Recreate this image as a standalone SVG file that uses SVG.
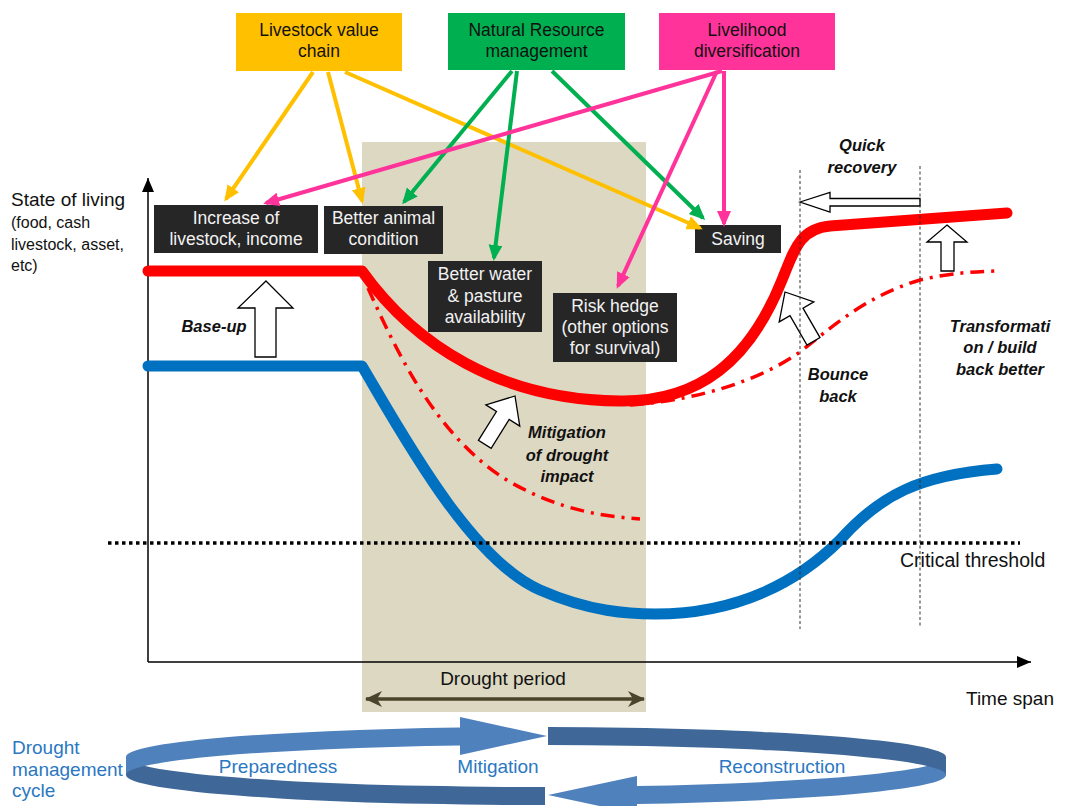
<svg xmlns="http://www.w3.org/2000/svg" width="1066" height="806" viewBox="0 0 1066 806">
<style>
.t{font-family:"Liberation Sans",Arial,sans-serif;}
.top{font-size:17.5px;fill:#111;text-anchor:middle;}
.dk{fill:#262626;}
.dt{font-size:17.5px;fill:#F2F2F2;text-anchor:middle;}
.bi{font-size:16.5px;font-weight:bold;font-style:italic;fill:#111;text-anchor:middle;}
.blk{fill:#fff;stroke:#000;stroke-width:1.3;stroke-linejoin:miter;}
.vd{stroke:#333;stroke-width:1;stroke-dasharray:3 2.5;fill:none;}
.cy{font-size:19px;fill:#2B78C2;}
</style>
<defs>
<marker id="my" markerUnits="userSpaceOnUse" markerWidth="18" markerHeight="16" refX="13" refY="7" orient="auto"><path d="M0,0 L16,7 L0,14 z" fill="#FFC000"/></marker>
<marker id="mg" markerUnits="userSpaceOnUse" markerWidth="18" markerHeight="16" refX="13" refY="7" orient="auto"><path d="M0,0 L16,7 L0,14 z" fill="#00B050"/></marker>
<marker id="mp" markerUnits="userSpaceOnUse" markerWidth="18" markerHeight="16" refX="13" refY="7" orient="auto"><path d="M0,0 L16,7 L0,14 z" fill="#FF3399"/></marker>
<marker id="mk" markerUnits="userSpaceOnUse" markerWidth="16" markerHeight="14" refX="14" refY="6" orient="auto"><path d="M0,0 L14,6 L0,12 z" fill="#000"/></marker>
<marker id="md" markerUnits="userSpaceOnUse" markerWidth="20" markerHeight="20" refX="16" refY="8" orient="auto-start-reverse"><path d="M0,0 L17,8 L0,16 L5,8 z" fill="#4A452A"/></marker>
</defs>

<rect id="drought-period" x="362" y="142" width="284" height="570" fill="#DDD8C2"/>

<g id="axes" stroke="#000" stroke-width="1.5" fill="none">
<line x1="148" y1="662" x2="148" y2="178" marker-end="url(#mk)"/>
<line x1="148" y1="662" x2="1031" y2="662" marker-end="url(#mk)"/>
</g>

<g id="curves" fill="none" stroke-linecap="round" stroke-linejoin="round">
<path d="M148,366 L362,366 C400,430 470,560 540,590 C590,612 630,614 655,614 C740,614 800,580 840,540 C880,495 920,475 997,469" stroke="#0070C0" stroke-width="11"/>
<path d="M368,288 C400,360 440,440 510,482 C560,510 600,516 640,519" stroke="#FF0000" stroke-width="3.5" stroke-linecap="butt" stroke-dasharray="14 7 3 7"/>
<path d="M630,405 C700,400 760,380 800,352 C840,320 870,295 920,280 C950,273 970,272 995,271" stroke="#FF0000" stroke-width="3.5" stroke-linecap="butt" stroke-dasharray="14 7 3 7"/>
<path d="M148,271 L362,271 C415,345 500,400 620,401 C700,402 750,360 782,280 C795,248 800,229 830,226 L1007,213" stroke="#FF0000" stroke-width="11"/>
</g>

<g id="threshold">
<line x1="108" y1="543" x2="1020" y2="543" stroke="#000" stroke-width="3.5" stroke-dasharray="3.5 3.5"/>
<text class="t" x="900" y="567" font-size="19.5" fill="#111">Critical threshold</text>
</g>

<g id="block-arrows">
<polygon class="blk" points="266,281 293,308 276,308 276,357 255,357 255,308 238,308"/>
<polygon class="blk" points="0,0 20,23 7.5,23 7.5,57 -7.5,57 -7.5,23 -20,23" transform="translate(515,396) rotate(32)"/>
<polygon class="blk" points="0,0 20,23 7.5,23 7.5,57 -7.5,57 -7.5,23 -20,23" transform="translate(785,292) rotate(-30)"/>
<polygon class="blk" points="947,225 967,242 954,242 954,271 941,271 941,242 927,242"/>
<polygon class="blk" points="800,202 830,192.5 830,198.5 920,198.5 920,206 830,206 830,212"/>
</g>

<g id="phase-lines">
<line class="vd" x1="800" y1="170" x2="800" y2="629"/>
<line class="vd" x1="920" y1="166" x2="920" y2="628"/>
</g>

<g id="labels" class="t">
<text class="bi" x="214" y="332">Base-up</text>
<text class="bi" x="567" y="438">Mitigation</text>
<text class="bi" x="567" y="461">of drought</text>
<text class="bi" x="567" y="482">impact</text>
<text class="bi" x="862" y="151">Quick</text>
<text class="bi" x="862" y="173">recovery</text>
<text class="bi" x="838" y="380">Bounce</text>
<text class="bi" x="838" y="402">back</text>
<text class="bi" x="1000" y="332">Transformati</text>
<text class="bi" x="1000" y="353">on / build</text>
<text class="bi" x="1000" y="375">back better</text>
<text x="11" y="206" font-size="19" fill="#111">State of living</text>
<text x="11" y="228" font-size="16" fill="#111">(food, cash</text>
<text x="11" y="250" font-size="16" fill="#111">livestock, asset,</text>
<text x="11" y="271" font-size="16" fill="#111">etc)</text>
<text x="966" y="705" font-size="19" fill="#111">Time span</text>
</g>

<g id="drought-span">
<line x1="366" y1="699" x2="644" y2="699" stroke="#4A452A" stroke-width="3.5" marker-start="url(#md)" marker-end="url(#md)"/>
<text class="t" x="503" y="685" font-size="19" fill="#111" text-anchor="middle">Drought period</text>
</g>

<g id="box-livestock-value-chain">
<rect x="236" y="13" width="166" height="58" fill="#FFC000"/>
<text class="t top" x="319" y="36">Livestock value</text>
<text class="t top" x="319" y="57">chain</text>
</g>
<g id="box-natural-resource">
<rect x="448" y="13" width="177" height="57" fill="#00B050"/>
<text class="t top" x="536.5" y="36">Natural Resource</text>
<text class="t top" x="536.5" y="57">management</text>
</g>
<g id="box-livelihood">
<rect x="659" y="13" width="176" height="57" fill="#FF3399"/>
<text class="t top" x="747" y="36">Livelihood</text>
<text class="t top" x="747" y="57">diversification</text>
</g>

<g id="box-increase">
<rect class="dk" x="154" y="205" width="164" height="48"/>
<text class="t dt" x="236" y="224">Increase of</text>
<text class="t dt" x="236" y="245">livestock, income</text>
</g>
<g id="box-animal">
<rect class="dk" x="324" y="206" width="119" height="48"/>
<text class="t dt" x="383.5" y="224">Better animal</text>
<text class="t dt" x="383.5" y="245">condition</text>
</g>
<g id="box-water">
<rect class="dk" x="428" y="261" width="114" height="71"/>
<text class="t dt" x="485" y="280">Better water</text>
<text class="t dt" x="485" y="302">&amp; pasture</text>
<text class="t dt" x="485" y="323">availability</text>
</g>
<g id="box-saving">
<rect class="dk" x="695" y="225" width="86" height="28"/>
<text class="t dt" x="738" y="245">Saving</text>
</g>
<g id="box-risk">
<rect class="dk" x="553" y="293" width="124" height="69"/>
<text class="t dt" x="615" y="312">Risk hedge</text>
<text class="t dt" x="615" y="333">(other options</text>
<text class="t dt" x="615" y="354">for survival)</text>
</g>

<g id="connectors" fill="none" stroke-width="4">
<line x1="313" y1="72" x2="226" y2="199" stroke="#FFC000" marker-end="url(#my)"/>
<line x1="328" y1="72" x2="362" y2="201" stroke="#FFC000" marker-end="url(#my)"/>
<line x1="345" y1="72" x2="700" y2="228" stroke="#FFC000" marker-end="url(#my)"/>
<line x1="512" y1="71" x2="404" y2="202" stroke="#00B050" marker-end="url(#mg)"/>
<line x1="517" y1="71" x2="494" y2="258" stroke="#00B050" marker-end="url(#mg)"/>
<line x1="552" y1="71" x2="703" y2="218" stroke="#00B050" marker-end="url(#mg)"/>
<line x1="722" y1="71" x2="266" y2="203" stroke="#FF3399" marker-end="url(#mp)"/>
<line x1="717" y1="71" x2="618" y2="286" stroke="#FF3399" marker-end="url(#mp)"/>
<line x1="724" y1="71" x2="724" y2="224" stroke="#FF3399" marker-end="url(#mp)"/>
</g>

<g id="cycle-label" class="t">
<text class="cy" x="12" y="754" font-size="18">Drought</text>
<text class="cy" x="12" y="776" font-size="18">management</text>
<text class="cy" x="12" y="797" font-size="18">cycle</text>
</g>

<g id="management-cycle">
<path d="M126,757 A410,30 0 0,0 545,787 L545,805 A410,30 0 0,1 126,775 Z" fill="#3F6898"/>
<path d="M126,757 A410,30 0 0,1 460,727.5 L460,745.5 A410,30 0 0,0 126,775 Z" fill="#4F81BD"/>
<polygon points="460,717 547,736 460,755" fill="#4F81BD"/>
<path d="M946,757 A410,30 0 0,1 637,786.1 L637,804.1 A410,30 0 0,0 946,775 Z" fill="#4F81BD"/>
<polygon points="637,776 548,795 637,814" fill="#4F81BD"/>
<path d="M548,727 A410,30 0 0,1 946,757 L946,775 A410,30 0 0,0 548,745 Z" fill="#3F6898"/>
<text class="t cy" x="278" y="773" text-anchor="middle">Preparedness</text>
<text class="t cy" x="498" y="773" text-anchor="middle">Mitigation</text>
<text class="t cy" x="782" y="773" text-anchor="middle">Reconstruction</text>
</g>
</svg>
